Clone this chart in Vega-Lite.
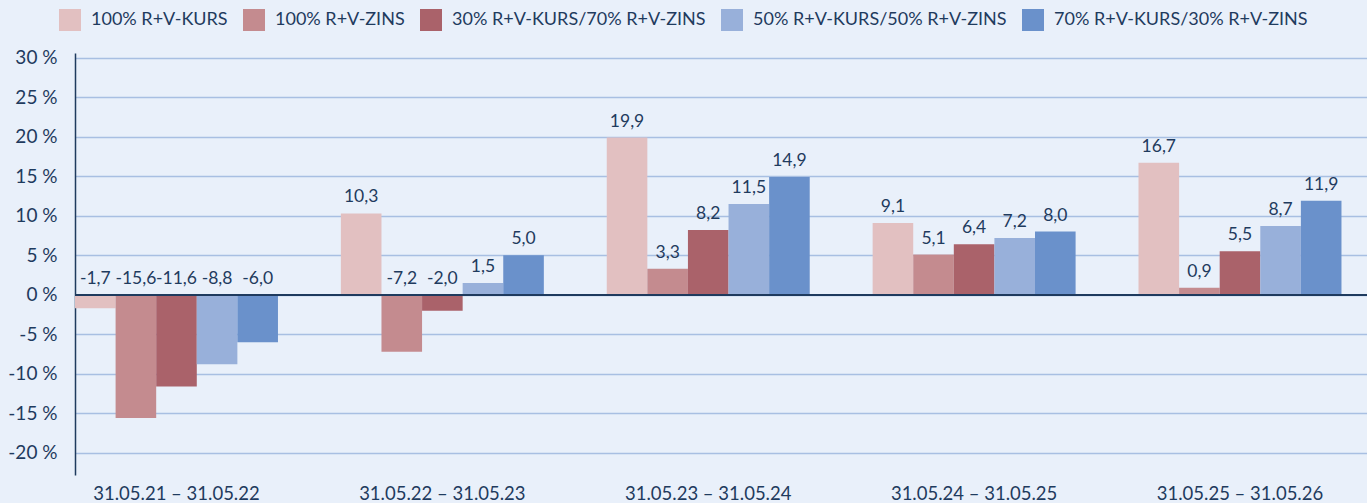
{
  "$schema": "https://vega.github.io/schema/vega-lite/v6.json",
  "width": 1292,
  "height": 422,
  "autosize": {"type": "none"},
  "padding": {"left": 75, "top": 53, "right": 0, "bottom": 28},
  "background": "#e9f0fa",
  "config": {
    "view": {"stroke": null},
    "font": "Lato",
    "locale": {"number": {"decimal": ",", "thousands": ".", "grouping": [3], "currency": ["", " €"], "minus": "-"}}
  },
  "data": {"values": [
    {"p": "31.05.21 – 31.05.22", "s": "100% R+V-KURS", "v": -1.7},
    {"p": "31.05.21 – 31.05.22", "s": "100% R+V-ZINS", "v": -15.6},
    {"p": "31.05.21 – 31.05.22", "s": "30% R+V-KURS/70% R+V-ZINS", "v": -11.6},
    {"p": "31.05.21 – 31.05.22", "s": "50% R+V-KURS/50% R+V-ZINS", "v": -8.8},
    {"p": "31.05.21 – 31.05.22", "s": "70% R+V-KURS/30% R+V-ZINS", "v": -6.0},
    {"p": "31.05.22 – 31.05.23", "s": "100% R+V-KURS", "v": 10.3},
    {"p": "31.05.22 – 31.05.23", "s": "100% R+V-ZINS", "v": -7.2},
    {"p": "31.05.22 – 31.05.23", "s": "30% R+V-KURS/70% R+V-ZINS", "v": -2.0},
    {"p": "31.05.22 – 31.05.23", "s": "50% R+V-KURS/50% R+V-ZINS", "v": 1.5},
    {"p": "31.05.22 – 31.05.23", "s": "70% R+V-KURS/30% R+V-ZINS", "v": 5.0},
    {"p": "31.05.23 – 31.05.24", "s": "100% R+V-KURS", "v": 19.9},
    {"p": "31.05.23 – 31.05.24", "s": "100% R+V-ZINS", "v": 3.3},
    {"p": "31.05.23 – 31.05.24", "s": "30% R+V-KURS/70% R+V-ZINS", "v": 8.2},
    {"p": "31.05.23 – 31.05.24", "s": "50% R+V-KURS/50% R+V-ZINS", "v": 11.5},
    {"p": "31.05.23 – 31.05.24", "s": "70% R+V-KURS/30% R+V-ZINS", "v": 14.9},
    {"p": "31.05.24 – 31.05.25", "s": "100% R+V-KURS", "v": 9.1},
    {"p": "31.05.24 – 31.05.25", "s": "100% R+V-ZINS", "v": 5.1},
    {"p": "31.05.24 – 31.05.25", "s": "30% R+V-KURS/70% R+V-ZINS", "v": 6.4},
    {"p": "31.05.24 – 31.05.25", "s": "50% R+V-KURS/50% R+V-ZINS", "v": 7.2},
    {"p": "31.05.24 – 31.05.25", "s": "70% R+V-KURS/30% R+V-ZINS", "v": 8.0},
    {"p": "31.05.25 – 31.05.26", "s": "100% R+V-KURS", "v": 16.7},
    {"p": "31.05.25 – 31.05.26", "s": "100% R+V-ZINS", "v": 0.9},
    {"p": "31.05.25 – 31.05.26", "s": "30% R+V-KURS/70% R+V-ZINS", "v": 5.5},
    {"p": "31.05.25 – 31.05.26", "s": "50% R+V-KURS/50% R+V-ZINS", "v": 8.7},
    {"p": "31.05.25 – 31.05.26", "s": "70% R+V-KURS/30% R+V-ZINS", "v": 11.9}
  ]},
  "encoding": {
    "x": {"field": "p", "type": "nominal", "sort": null, "title": null,
      "scale": {"paddingInner": 0.2366, "paddingOuter": 0.048, "align": 0},
      "axis": {"orient": "bottom", "domain": false, "ticks": false, "labelAngle": 0, "labelFontSize": 18.5, "labelColor": "#1f3b5e", "labelPadding": 9, "labelFont": "Lato"}},
    "xOffset": {"field": "s", "type": "nominal", "sort": ["100% R+V-KURS", "100% R+V-ZINS", "30% R+V-KURS/70% R+V-ZINS", "50% R+V-KURS/50% R+V-ZINS", "70% R+V-KURS/30% R+V-ZINS"], "scale": {"paddingInner": 0, "paddingOuter": 0}}
  },
  "layer": [
    {
      "mark": {"type": "bar"},
      "encoding": {
        "y": {"field": "v", "type": "quantitative", "title": null,
          "scale": {"domain": [-22.8, 30.6], "nice": false, "zero": false},
          "axis": {"values": [-20, -15, -10, -5, 0, 5, 10, 15, 20, 25, 30], "labelExpr": "datum.value + ' %'", "ticks": false, "labelPadding": 18, "labelFontSize": 19, "labelColor": "#1f3b5e", "domainColor": "#1f3b5e", "domainWidth": 1.5, "gridColor": "#a8bfe2", "gridWidth": 1.5, "gridOpacity": 1}},
        "color": {"field": "s", "type": "nominal", "title": null,
          "scale": {"domain": ["100% R+V-KURS", "100% R+V-ZINS", "30% R+V-KURS/70% R+V-ZINS", "50% R+V-KURS/50% R+V-ZINS", "70% R+V-KURS/30% R+V-ZINS"], "range": ["#e2c0c1", "#c48b8f", "#aa626a", "#98b0da", "#6a91cb"]},
          "legend": {"orient": "none", "legendX": -16, "legendY": -44, "direction": "horizontal", "symbolType": "square", "symbolSize": 484, "symbolStrokeWidth": 0, "symbolOpacity": 1, "labelFontSize": 18, "labelColor": "#1f3b5e", "labelOffset": 10, "columnPadding": 15, "labelLimit": 400}}
      }
    },
    {
      "mark": {"type": "rule", "color": "#1f3b5e", "strokeWidth": 1.5},
      "encoding": {"y": {"datum": 0}, "x": null, "xOffset": null}
    },
    {
      "transform": [{"filter": "datum.v >= 0"}],
      "mark": {"type": "text", "dy": -11, "baseline": "alphabetic", "fontSize": 17.5, "color": "#1f3b5e"},
      "encoding": {"y": {"field": "v", "type": "quantitative"}, "text": {"field": "v", "type": "quantitative", "format": ".1f"}}
    },
    {
      "transform": [{"filter": "datum.v < 0"}],
      "mark": {"type": "text", "dy": -11, "baseline": "alphabetic", "fontSize": 17.5, "color": "#1f3b5e"},
      "encoding": {"y": {"datum": 0}, "text": {"field": "v", "type": "quantitative", "format": ".1f"}}
    }
  ]
}
